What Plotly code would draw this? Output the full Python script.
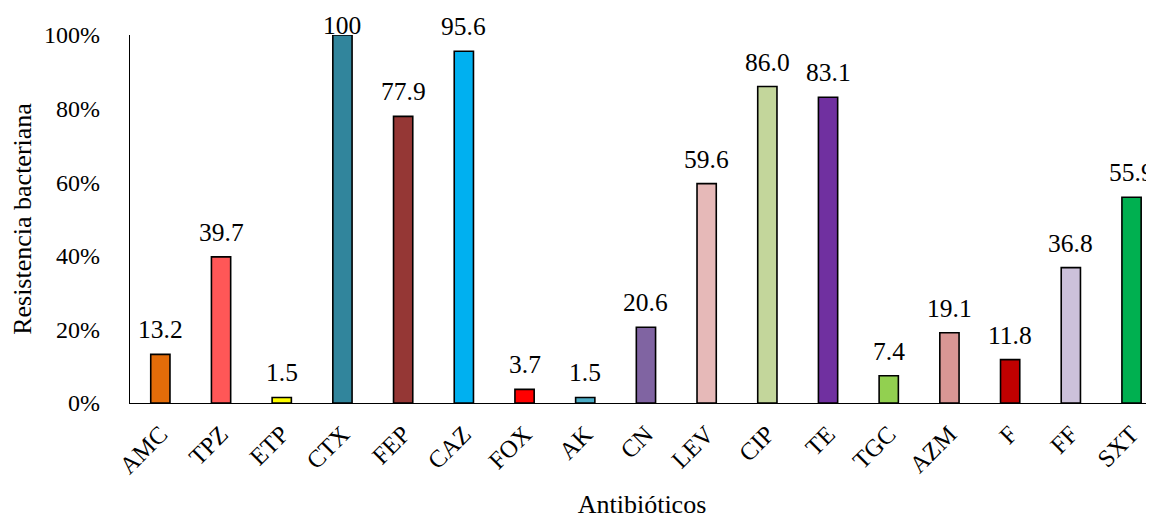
import plotly.graph_objects as go

categories = ["AMC", "TPZ", "ETP", "CTX", "FEP", "CAZ", "FOX", "AK", "CN", "LEV",
              "CIP", "TE", "TGC", "AZM", "F", "FF", "SXT"]
values = [13.2, 39.7, 1.5, 100, 77.9, 95.6, 3.7, 1.5, 20.6, 59.6,
          86.0, 83.1, 7.4, 19.1, 11.8, 36.8, 55.9]
labels = ["13.2", "39.7", "1.5", "100", "77.9", "95.6", "3.7", "1.5", "20.6", "59.6",
          "86.0", "83.1", "7.4", "19.1", "11.8", "36.8", "55.9"]
colors = ["#E36C09", "#FF5757", "#FFFF00", "#31859C", "#953735", "#00B0F0", "#FF0000",
          "#4BACC6", "#8064A2", "#E6B9B8", "#C3D69B", "#7030A0", "#92D050", "#D99694",
          "#C00000", "#CCC1DA", "#00B050"]
y_ticks = [0, 20, 40, 60, 80, 100]
y_tick_text = ["0%", "20%", "40%", "60%", "80%", "100%"]

FONT = "Liberation Serif"

fig = go.Figure(go.Bar(
    x=categories, y=values,
    marker=dict(color=colors, line=dict(color="#000", width=1.6)),
    width=0.317,
))

for c, v, t in zip(categories, values, labels):
    fig.add_annotation(
        x=c, y=v, text=t, showarrow=False, xref="x", yref="y",
        yanchor="bottom", yshift=(-7 if v > 97 else 8),
        font=dict(family=FONT, size=25.5, color="#000"),
    )

fig.update_layout(
    width=1146, height=511,
    margin=dict(l=122, r=0, t=27, b=116),
    paper_bgcolor="white", plot_bgcolor="white",
    font=dict(family=FONT, size=24, color="#000"),
    showlegend=False,
    xaxis=dict(
        range=[-0.5, 16.37], tickangle=-45, showline=True, linecolor="#000", linewidth=1.3,
        ticks="", showgrid=False, tickfont=dict(family=FONT, size=24.5), automargin=False,
        ticklabelstandoff=6,
        title=dict(text="Antibióticos", font=dict(family=FONT, size=26), standoff=21),
    ),
    yaxis=dict(
        range=[0, 100], tickvals=y_ticks, ticktext=y_tick_text, showline=True, linecolor="#000",
        linewidth=1.3, ticks="", showgrid=False, zeroline=False, ticklabelstandoff=24,
        tickfont=dict(family=FONT, size=24), automargin=False,
        title=dict(text="Resistencia bacteriana", font=dict(family=FONT, size=26), standoff=10),
    ),
)

fig.write_html("out.html")
